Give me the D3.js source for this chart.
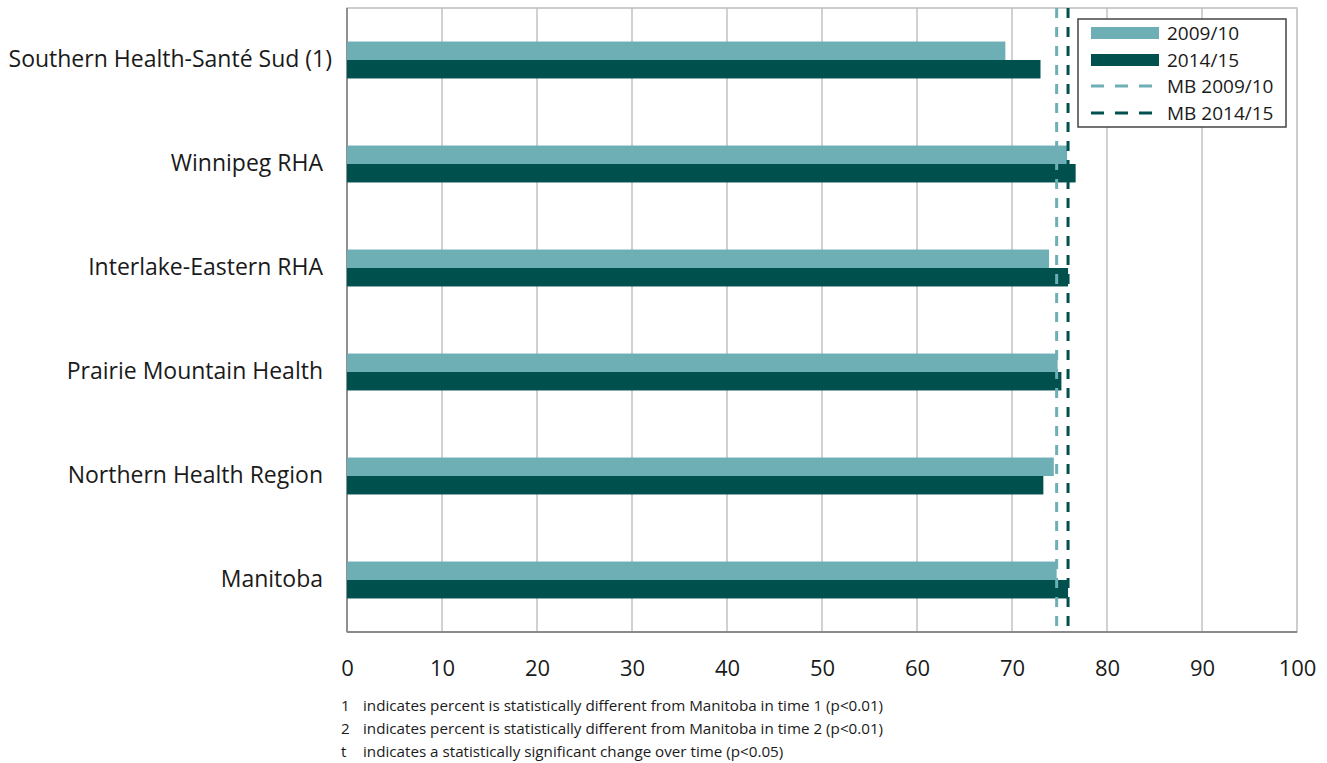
<!DOCTYPE html>
<html><head><meta charset="utf-8">
<script src="https://cdn.jsdelivr.net/npm/d3@7"></script>
<style>body{margin:0;background:#fff}svg{display:block}text{font-family:"Open Sans",sans-serif;fill:#1a1a1a}</style>
</head><body><svg id="c" width="1327" height="763"></svg>
<script>
const categories = ["Southern Health-Santé Sud (1)","Winnipeg RHA","Interlake-Eastern RHA","Prairie Mountain Health","Northern Health Region","Manitoba"];
const series2009 = [69.3, 75.8, 73.9, 74.8, 74.4, 74.7];
const series2014 = [73.0, 76.7, 75.9, 75.2, 73.3, 75.9];
const mb2009 = 74.7;
const mb2014 = 75.9;
const xTicks = [0,10,20,30,40,50,60,70,80,90,100];
const seriesNames = ["2009/10","2014/15","MB 2009/10","MB 2014/15"];
const footnotes = [["1","indicates percent is statistically different from Manitoba in time 1 (p<0.01)"],["2","indicates percent is statistically different from Manitoba in time 2 (p<0.01)"],["t","indicates a statistically significant change over time (p<0.05)"]];

const light = "#6eaeb5", dark = "#00504e";
const svg = d3.select("#c");
const L = 347, R = 1297, T = 8, B = 632;
const x = d3.scaleLinear().domain([0,100]).range([L,R]);
const y = d3.scaleBand().domain(categories).range([T,B]).paddingInner(0.645).paddingOuter(0.3225);
const yi = d3.scaleBand().domain([0,1]).range([0,y.bandwidth()]);

// grid
svg.append("g").selectAll("line").data(xTicks.slice(1,-1)).join("line")
  .attr("x1",d=>x(d)).attr("x2",d=>x(d)).attr("y1",T).attr("y2",B)
  .attr("stroke","#c6c6c6").attr("stroke-width",1.6);
svg.append("rect").attr("x",L).attr("y",T).attr("width",R-L).attr("height",B-T)
  .attr("fill","none").attr("stroke","#bdbdbd").attr("stroke-width",1.5);
svg.append("line").attr("x1",L).attr("x2",L).attr("y1",T).attr("y2",B).attr("stroke","#8a8a8a").attr("stroke-width",1.8);
svg.append("line").attr("x1",L).attr("x2",R).attr("y1",B).attr("y2",B).attr("stroke","#8a8a8a").attr("stroke-width",1.8);

// bars
const g = svg.append("g");
g.selectAll("rect.a").data(categories).join("rect").attr("class","a")
  .attr("x",x(0)).attr("y",d=>y(d)+yi(0)).attr("height",yi.bandwidth())
  .attr("width",(d,i)=>x(series2009[i])-x(0)).attr("fill",light);
g.selectAll("rect.b").data(categories).join("rect").attr("class","b")
  .attr("x",x(0)).attr("y",d=>y(d)+yi(1)).attr("height",yi.bandwidth())
  .attr("width",(d,i)=>x(series2014[i])-x(0)).attr("fill",dark);

// MB lines
svg.append("line").attr("x1",x(mb2009)).attr("x2",x(mb2009)).attr("y1",T).attr("y2",B)
  .attr("stroke",light).attr("stroke-width",3).attr("stroke-dasharray","10,9");
svg.append("line").attr("x1",x(mb2014)).attr("x2",x(mb2014)).attr("y1",T).attr("y2",B)
  .attr("stroke",dark).attr("stroke-width",3).attr("stroke-dasharray","10,9");

// axes labels
const xa = svg.append("g").attr("transform",`translate(0,${B})`)
  .call(d3.axisBottom(x).tickValues(xTicks).tickSize(0).tickPadding(28));
xa.select(".domain").remove();
xa.selectAll("text").attr("font-size",22).attr("font-family","Open Sans, sans-serif").attr("fill","#1a1a1a");
const ya = svg.append("g").attr("transform",`translate(${L},0)`)
  .call(d3.axisLeft(y).tickSize(0).tickPadding(24));
ya.select(".domain").remove();
ya.selectAll("text").attr("font-size",23).attr("font-family","Open Sans, sans-serif").attr("fill","#1a1a1a")
  .attr("x",(d,i)=>i===0?-15:-24);

// legend
const lg = svg.append("g");
lg.append("rect").attr("x",1078).attr("y",19).attr("width",208).attr("height",108)
  .attr("fill","#fff").attr("stroke","#444").attr("stroke-width",1.5);
const rows = [33,60,86,113];
seriesNames.forEach((n,i)=>{
  const yy = rows[i];
  if(i<2){
    lg.append("rect").attr("x",1091).attr("y",yy-6).attr("width",68).attr("height",12).attr("fill",i===0?light:dark);
  } else {
    lg.append("line").attr("x1",1091).attr("x2",1159).attr("y1",yy).attr("y2",yy)
      .attr("stroke",i===2?light:dark).attr("stroke-width",3).attr("stroke-dasharray","13,11");
  }
  lg.append("text").attr("x",1167).attr("y",yy).attr("dy","0.35em").attr("font-size",19).text(n);
});

// footnotes
const fy = [706,729,752];
footnotes.forEach((f,i)=>{
  svg.append("text").attr("x",341).attr("y",fy[i]).attr("dy","0.35em").attr("font-size",15.2).text(f[0]);
  svg.append("text").attr("x",363).attr("y",fy[i]).attr("dy","0.35em").attr("font-size",15.2).text(f[1]);
});
</script></body></html>
